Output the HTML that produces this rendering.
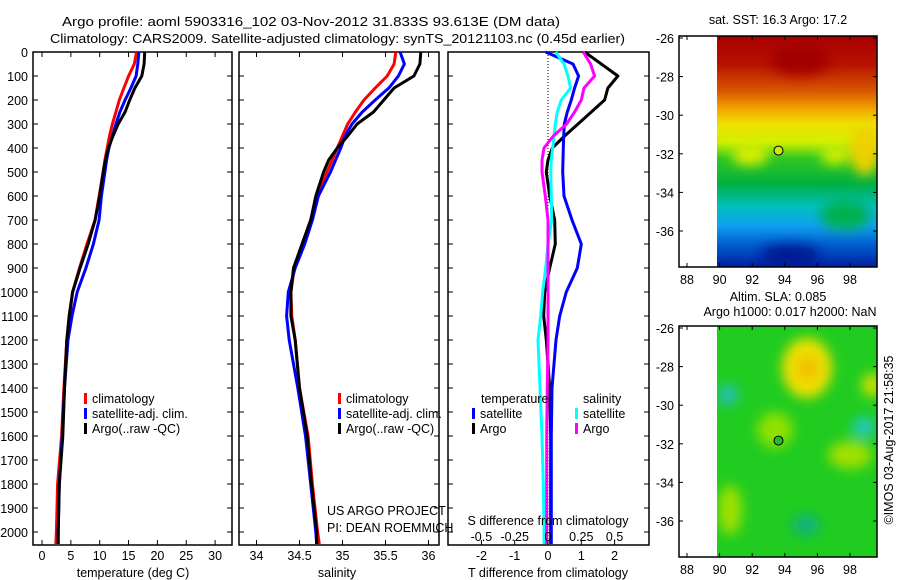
<!DOCTYPE html>
<html><head><meta charset="utf-8"><style>
body{margin:0;background:#fff;}
svg{display:block;font-family:"Liberation Sans",sans-serif;}
text{fill:#000;font-size:12.5px;}
</style></head><body>
<svg id="fig" width="900" height="580" viewBox="0 0 900 580">
<defs>
<linearGradient id="sstg" x1="0" y1="0" x2="0" y2="1">
<stop offset="0" stop-color="#a80000"/><stop offset="0.12" stop-color="#b81000"/>
<stop offset="0.24" stop-color="#d85800"/><stop offset="0.31" stop-color="#f0a000"/>
<stop offset="0.38" stop-color="#f0e000"/><stop offset="0.46" stop-color="#d0f000"/>
<stop offset="0.53" stop-color="#30c820"/><stop offset="0.64" stop-color="#00b040"/>
<stop offset="0.74" stop-color="#00c0c0"/><stop offset="0.82" stop-color="#10a0f0"/>
<stop offset="0.9" stop-color="#0060d0"/><stop offset="1" stop-color="#0020a0"/>
</linearGradient>
<filter id="blur" x="-50%" y="-50%" width="200%" height="200%"><feGaussianBlur stdDeviation="6"/></filter>
<clipPath id="c1"><rect x="717" y="36" width="160" height="231"/></clipPath>
<clipPath id="c2"><rect x="717" y="326" width="160" height="231"/></clipPath>
</defs>
<text x="62" y="26" textLength="498" lengthAdjust="spacingAndGlyphs" font-size="15">Argo profile: aoml 5903316_102 03-Nov-2012 31.833S 93.613E (DM data)</text>
<text x="50" y="43" textLength="575" lengthAdjust="spacingAndGlyphs" font-size="15">Climatology: CARS2009. Satellite-adjusted climatology: synTS_20121103.nc (0.45d earlier)</text>
<g id="panels"></g>
<g id="maps"></g>
</svg>
<script>
// depth levels (dbar)
const depths=[0,50,100,150,200,250,300,350,400,450,500,600,700,800,900,1000,1100,1200,1400,1600,1800,2000,2050];
// temperature (deg C)
const tClim=[16.4,16.0,15.0,14.2,13.4,12.8,12.2,11.7,11.3,10.9,10.6,9.9,9.2,7.8,6.5,5.3,4.8,4.3,3.8,3.4,2.7,2.5,2.4];
const tSat=[16.8,16.6,16.3,15.4,14.4,13.5,12.8,12.2,11.6,11.2,10.9,10.3,9.9,8.9,7.6,6.1,5.2,4.5,3.9,3.5,3.0,2.8,2.8];
const tArgo=[17.8,17.7,17.3,16.1,15.2,14.4,13.2,12.3,11.5,11.0,10.6,10.0,9.2,8.0,6.6,5.3,4.7,4.3,3.9,3.6,3.0,2.8,2.8];
// salinity
const sClim=[35.62,35.60,35.52,35.38,35.25,35.15,35.06,35.00,34.94,34.88,34.82,34.71,34.63,34.53,34.44,34.40,34.41,34.45,34.50,34.60,34.65,34.71,34.73];
const sSat=[35.67,35.72,35.65,35.54,35.38,35.23,35.11,35.03,34.98,34.92,34.86,34.72,34.65,34.56,34.45,34.37,34.35,34.38,34.48,34.57,34.63,34.69,34.70];
const sArgo=[35.91,35.90,35.83,35.60,35.48,35.36,35.17,35.06,34.94,34.84,34.78,34.69,34.63,34.53,34.43,34.40,34.40,34.45,34.50,34.59,34.64,34.70,34.70];
// differences from climatology
const dTSat=[-0.07,0.75,0.92,0.8,0.7,0.58,0.49,0.47,0.46,0.45,0.44,0.48,0.72,1.0,0.88,0.55,0.35,0.24,0.12,0.1,0.1,0.1,0.1];
const dTArgo=[1.1,1.6,2.1,1.8,1.7,1.3,0.9,0.5,0.13,0.0,-0.05,0.05,0.2,0.22,0.05,-0.1,-0.13,-0.05,0.05,0.08,0.08,0.08,0.08];
const dSSat=[0.058,0.12,0.15,0.17,0.1,0.07,0.055,0.045,0.035,0.025,0.02,0.025,0.028,0.0,-0.017,-0.04,-0.055,-0.075,-0.06,-0.045,-0.035,-0.03,-0.03];
const dSArgo=[0.265,0.32,0.35,0.27,0.25,0.2,0.14,0.04,-0.03,-0.045,-0.045,-0.02,0,0,0,0,0,0,-0.005,-0.01,-0.01,-0.01,-0.01];
// ticks
const depthTicks=[0,100,200,300,400,500,600,700,800,900,1000,1100,1200,1300,1400,1500,1600,1700,1800,1900,2000];
const tTicks=[0,5,10,15,20,25,30];
const sTicks=[34,34.5,35,35.5,36];
const sTickLabels=["34","34.5","35","35.5","36"];
const dTTicks=[-2,-1,0,1,2];
const dSTicks=[-0.5,-0.25,0,0.25,0.5];
const dSTickLabels=["-0.5","-0.25","0","0.25","0.5"];
const lonTicks=[88,90,92,94,96,98];
const latTicks=[-26,-28,-30,-32,-34,-36];
const argoLon=[93.613], argoLat=[-31.833];

const NS="http://www.w3.org/2000/svg";
const panels=document.getElementById('panels');
const maps=document.getElementById('maps');
function mk(tag,attrs,parent){const e=document.createElementNS(NS,tag);for(const k in attrs)e.setAttribute(k,attrs[k]);(parent||panels).appendChild(e);return e;}
const PT=52,PB=545;
const yD=d=>PT+d*0.24;
const xT=t=>42+t*5.77;
const xS=s=>256.5+(s-34)*86;
const xDT=v=>548+v*33.3;
const xDS=v=>548+v*133.2;

function frame(x0,x1,name){
  const r=mk('rect',{x:x0,y:PT,width:x1-x0,height:PB-PT,fill:'none',stroke:'#000','stroke-width':1.5});
  
  
  depthTicks.forEach(d=>{
    const y=yD(d);
    mk('line',{x1:x0,x2:x0+5,y1:y,y2:y,stroke:'#000'});
    mk('line',{x1:x1,x2:x1-5,y1:y,y2:y,stroke:'#000'});
  });
}
function line(xs,xf,color,name){
  const pts=depths.map((d,i)=>xf(xs[i]).toFixed(1)+','+yD(d).toFixed(1)).join(' ');
  const p=mk('polyline',{points:pts,fill:'none',stroke:color,'stroke-width':3,'stroke-linejoin':'round'});
  
  
}
function xticks(vals,labels,xf,ly,name){
  vals.forEach((v,i)=>{
    const x=xf(v);
    mk('line',{x1:x,x2:x,y1:PB,y2:PB-5,stroke:'#000'});
    mk('line',{x1:x,x2:x,y1:PT,y2:PT+5,stroke:'#000'});
    const t=mk('text',{x:x,y:ly,'text-anchor':'middle'});t.textContent=labels[i];
    
    
  });
}
function txt(x,y,s,name,anchor){const t=mk('text',{x:x,y:y,'text-anchor':anchor||'start'});t.textContent=s;
  
  return t;}
function legItem(x,y,color,label,name){
  mk('rect',{x:x,y:y-10,width:3,height:11,fill:color});
  txt(x+8,y,label,name);
}

// Panel 1 temperature
frame(33,232,'temperature-panel');
depthTicks.forEach(d=>{txt(28,yD(d)+5,String(d),'depth-tick-label','end');});
line(tClim,xT,'#f00','temp-climatology-line');
line(tSat,xT,'#00f','temp-satellite-line');
line(tArgo,xT,'#000','temp-argo-line');
xticks(tTicks,tTicks.map(String),xT,560,'temp-tick-label');
txt(133,577,'temperature (deg C)','temp-axis-title','middle');
legItem(84,403,'#f00','climatology','legend-climatology');
legItem(84,418,'#00f','satellite-adj. clim.','legend-satellite');
legItem(84,433,'#000','Argo(..raw -QC)','legend-argo');

// Panel 2 salinity
frame(239,439,'salinity-panel');
line(sClim,xS,'#f00','sal-climatology-line');
line(sSat,xS,'#00f','sal-satellite-line');
line(sArgo,xS,'#000','sal-argo-line');
xticks(sTicks,sTickLabels,xS,560,'sal-tick-label');
txt(337,577,'salinity','sal-axis-title','middle');
legItem(338,403,'#f00','climatology','legend-climatology');
legItem(338,418,'#00f','satellite-adj. clim.','legend-satellite');
legItem(338,433,'#000','Argo(..raw -QC)','legend-argo');
txt(327,515,'US ARGO PROJECT','project-label');
txt(327,532,'PI: DEAN ROEMMICH','pi-label');

// Panel 3 differences
frame(448,649,'difference-panel');
mk('line',{x1:xDT(0),x2:xDT(0),y1:PT,y2:PB,stroke:'#000','stroke-dasharray':'1,2'});
line(dTArgo,xDT,'#000','diffT-argo-line');
line(dTSat,xDT,'#00f','diffT-satellite-line');
line(dSSat,xDS,'#0ff','diffS-satellite-line');
line(dSArgo,xDS,'#f0f','diffS-argo-line');
dTTicks.forEach(v=>{const x=xDT(v);mk('line',{x1:x,x2:x,y1:PB,y2:PB-5,stroke:'#000'});
  txt(x,560,String(v),'diffT-tick-label','middle');});
dSTicks.forEach((v,i)=>{txt(xDS(v),541,dSTickLabels[i],'diffS-tick-label','middle');});
txt(548,525,'S difference from climatology','diffS-axis-title','middle');
txt(548,577,'T difference from climatology','diffT-axis-title','middle');
txt(481,403,'temperature','legend-temperature-heading');
txt(583,403,'salinity','legend-salinity-heading');
legItem(472,418,'#00f','satellite','legend-t-satellite');
legItem(472,433,'#000','Argo','legend-t-argo');
legItem(575,418,'#0ff','satellite','legend-s-satellite');
legItem(575,433,'#f0f','Argo','legend-s-argo');

// Maps
const lonX=l=>687+(l-88)*16.3;
function latY(l,y0){return y0+(-26-l)*19.3;}
function mapFrame(y0,y1,name,clip,fillFn){
  const g=mk('g',{},maps);
  
  
  const cg=mk('g',{'clip-path':'url(#'+clip+')'},g);
  fillFn(cg);
  mk('rect',{x:679,y:y0,width:198,height:y1-y0,fill:'none',stroke:'#000','stroke-width':1.5},g);
  lonTicks.forEach(l=>{const x=lonX(l);mk('line',{x1:x,x2:x,y1:y1,y2:y1-4,stroke:'#000'},g);mk('line',{x1:x,x2:x,y1:y0,y2:y0+4,stroke:'#000'},g);
    const t=mk('text',{x:x,y:y1+17,'text-anchor':'middle'},g);t.textContent=String(l);});
  latTicks.forEach(l=>{const y=latY(l,y0+2);mk('line',{x1:679,x2:683,y1:y,y2:y,stroke:'#000'},g);mk('line',{x1:877,x2:873,y1:y,y2:y,stroke:'#000'},g);
    const t=mk('text',{x:674,y:y+5,'text-anchor':'end'},g);t.textContent=String(l);});
  return g;
}
const g1=mapFrame(36,267,'sst-map','c1',cg=>{
  mk('rect',{x:717,y:36,width:160,height:231,fill:'url(#sstg)'},cg);
  const bg=mk('g',{filter:'url(#blur)'},cg);
  mk('ellipse',{cx:800,cy:60,rx:30,ry:15,fill:'#a00000'},bg);
  mk('ellipse',{cx:750,cy:155,rx:18,ry:10,fill:'#e0f000'},bg);
  mk('ellipse',{cx:835,cy:155,rx:14,ry:10,fill:'#d0f000'},bg);
  mk('ellipse',{cx:865,cy:150,rx:15,ry:25,fill:'#f0d000'},bg);
  mk('ellipse',{cx:845,cy:215,rx:25,ry:15,fill:'#00b050'},bg);
  mk('ellipse',{cx:790,cy:255,rx:30,ry:10,fill:'#001890'},bg);
});
const g2=mapFrame(326,557,'sla-map','c2',cg=>{
  mk('rect',{x:717,y:326,width:160,height:231,fill:'#20cc20'},cg);
  const bg=mk('g',{filter:'url(#blur)'},cg);
  mk('ellipse',{cx:807,cy:368,rx:25,ry:30,fill:'#f0e000'},bg);
  mk('ellipse',{cx:808,cy:368,rx:12,ry:12,fill:'#f0c000'},bg);
  mk('ellipse',{cx:872,cy:385,rx:10,ry:12,fill:'#d0e000'},bg);
  mk('ellipse',{cx:775,cy:430,rx:18,ry:18,fill:'#90e000'},bg);
  mk('ellipse',{cx:850,cy:455,rx:22,ry:14,fill:'#a0e000'},bg);
  mk('ellipse',{cx:730,cy:510,rx:12,ry:25,fill:'#a0e000'},bg);
  mk('ellipse',{cx:728,cy:395,rx:10,ry:10,fill:'#20c0c0'},bg);
  mk('ellipse',{cx:864,cy:427,rx:12,ry:10,fill:'#20c8c0'},bg);
  mk('ellipse',{cx:806,cy:525,rx:14,ry:10,fill:'#10b080'},bg);
});
[[g1,36],[g2,326]].forEach(([g,y0])=>{
  argoLon.forEach((lo,i)=>{
    const c=mk('circle',{cx:lonX(lo),cy:latY(argoLat[i],y0+2),r:4.5,fill:y0<100?'#c8f000':'#20c020',stroke:'#000','stroke-width':1},g);
    
    
  });
});
const m1=mk('text',{x:778,y:24,'text-anchor':'middle'},maps);m1.textContent='sat. SST: 16.3 Argo: 17.2';


const m2=mk('text',{x:778,y:301,'text-anchor':'middle'},maps);m2.textContent='Altim. SLA: 0.085';


const m3=mk('text',{x:790,y:316,'text-anchor':'middle'},maps);m3.textContent='Argo h1000: 0.017 h2000: NaN';


const m4=mk('text',{x:893,y:440,'text-anchor':'middle',transform:'rotate(-90 893 440)'},maps);m4.textContent='©IMOS 03-Aug-2017 21:58:35';


</script>
</body></html>
